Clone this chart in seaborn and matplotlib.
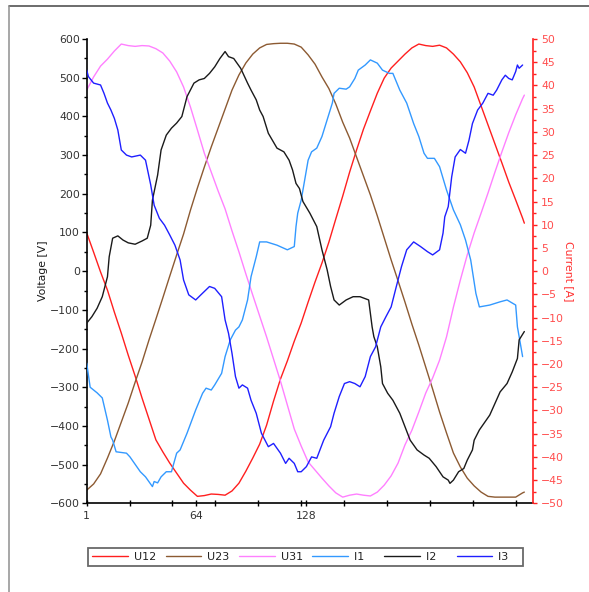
import matplotlib
matplotlib.use("Agg")
import matplotlib.pyplot as plt
from matplotlib.lines import Line2D
from matplotlib.ticker import MultipleLocator
import seaborn as sns

# ---- phase-to-phase voltages [V], one reading every 4 samples ----
sample_v = [1, 5, 9, 13, 17, 21, 25, 29, 33, 37, 41, 45, 49, 53, 57, 61, 65, 69, 73, 77,
            81, 85, 89, 93, 97, 101, 105, 109, 113, 117, 121, 125, 129, 133, 137, 141,
            145, 149, 153, 157, 161, 165, 169, 173, 177, 181, 185, 189, 193, 197, 201,
            205, 209, 213, 217, 221, 225, 229, 233, 237, 241, 245, 249, 253, 254]
u12 = [99, 49, -2, -49, -106, -160, -217, -271, -328, -382, -436, -467, -496, -522, -548,
       -566, -582, -580, -576, -577, -579, -568, -548, -517, -483, -447, -398, -336, -279,
       -232, -181, -134, -80, -28, 21, 75, 135, 194, 256, 313, 367, 414, 460, 499, 525,
       543, 561, 577, 587, 583, 581, 584, 577, 561, 541, 513, 476, 427, 378, 329, 280,
       230, 184, 137, 124]
u23 = [-566, -550, -524, -483, -439, -390, -341, -287, -235, -178, -124, -69, -13, 42, 96,
       158, 215, 269, 321, 370, 419, 468, 507, 538, 561, 577, 586, 588, 589, 589, 587, 579,
       559, 535, 502, 472, 432, 385, 344, 295, 246, 197, 143, 86, 29, -25, -80, -137,
       -191, -248, -305, -364, -418, -470, -506, -535, -555, -571, -582, -584, -584, -584,
       -584, -573, -571]
u31 = [468, 502, 530, 548, 569, 587, 583, 581, 583, 582, 575, 564, 543, 515, 476, 424, 365,
       305, 256, 207, 161, 104, 50, -7, -62, -116, -170, -227, -284, -346, -408, -452,
       -493, -514, -535, -555, -573, -584, -579, -576, -579, -581, -571, -553, -529, -496,
       -449, -411, -364, -315, -276, -230, -170, -93, -23, 42, 99, 150, 202, 256, 308, 358,
       404, 446, 455]

# ---- line currents [A] ----
i1_x = [1, 3, 7, 10, 13, 15, 16, 18, 24, 26, 32, 35, 39, 40, 42, 44, 47, 50, 53, 55,
        59, 64, 68, 70, 73, 75, 79, 81, 84, 87, 89, 91, 94, 96, 99, 101, 105, 111, 117,
        121, 122, 123, 125, 127, 129, 131, 134, 137, 140, 143, 144, 147, 151, 153, 156,
        158, 162, 165, 169, 172, 176, 178, 182, 186, 190, 193, 196, 198, 202, 205, 209,
        213, 217, 220, 223, 226, 228, 234, 240, 244, 249, 250, 251, 253]
i1 = [-19.8, -25.0, -26.2, -27.3, -32.1, -35.7, -36.4, -38.9, -39.2, -40.0, -43.2, -44.3,
      -46.4, -45.3, -45.6, -44.3, -43.2, -43.2, -39.2, -38.5, -34.9, -29.9, -26.3, -25.2,
      -25.6, -24.5, -22.0, -18.4, -14.8, -12.7, -12.0, -10.5, -6.2, -1.2, 3.1, 6.3, 6.3,
      5.6, 4.6, 5.3, 9.6, 12.5, 15.3, 19.6, 23.9, 25.7, 26.5, 29.0, 32.6, 36.2, 38.3,
      39.4, 39.2, 39.7, 41.5, 43.3, 44.4, 45.5, 44.8, 43.3, 42.6, 42.6, 39.0, 36.2, 31.8,
      29.0, 25.4, 24.3, 24.3, 22.5, 17.5, 13.2, 10.0, 6.7, 2.4, -4.8, -7.7, -7.3, -6.6,
      -6.2, -7.3, -12.0, -14.1, -18.4]

i2_x = [1, 4, 7, 10, 13, 14, 16, 19, 22, 25, 29, 33, 36, 38, 39, 42, 44, 47, 50, 53, 56,
        59, 63, 66, 69, 72, 75, 78, 81, 83, 86, 90, 94, 96, 99, 101, 103, 106, 111, 115,
        118, 120, 122, 124, 126, 130, 134, 137, 140, 142, 144, 147, 151, 155, 159, 164,
        165, 166, 167, 169, 171, 172, 175, 178, 182, 185, 188, 192, 196, 199, 203, 207,
        210, 211, 213, 216, 219, 221, 224, 225, 228, 234, 240, 244, 247, 250, 251, 254]
i2 = [-11.2, -9.8, -8.0, -5.5, -1.2, 3.1, 7.1, 7.6, 6.7, 6.1, 5.8, 6.5, 7.1, 9.9, 15.3,
      20.7, 26.1, 29.3, 30.8, 31.9, 33.3, 37.6, 40.5, 41.2, 41.5, 42.6, 44.0, 45.8, 47.3,
      46.2, 45.8, 43.7, 40.5, 39.0, 36.9, 34.7, 33.3, 29.7, 26.5, 25.7, 23.9, 21.8, 18.9,
      17.8, 15.0, 12.5, 9.6, 4.6, 0.3, -3.3, -6.2, -7.3, -6.2, -5.5, -5.5, -6.2, -9.1,
      -12.0, -14.1, -16.3, -20.6, -24.2, -26.3, -27.8, -30.6, -33.5, -36.4, -38.5, -39.6,
      -40.3, -42.1, -44.3, -45.0, -45.7, -45.0, -43.2, -42.5, -40.7, -38.5, -36.4, -34.2,
      -31.0, -26.0, -24.2, -21.7, -18.8, -14.8, -13.0]

i3_x = [1, 2, 5, 9, 11, 13, 15, 17, 19, 21, 24, 27, 32, 35, 38, 40, 43, 46, 49, 52, 55,
        57, 60, 64, 67, 72, 75, 79, 81, 83, 85, 87, 89, 91, 94, 96, 99, 102, 106, 109, 113,
        116, 118, 121, 123, 125, 128, 131, 134, 138, 142, 144, 147, 150, 153, 156, 159,
        162, 165, 168, 171, 174, 177, 180, 183, 186, 190, 194, 198, 201, 205, 207, 208,
        210, 212, 214, 217, 220, 222, 224, 227, 230, 233, 236, 238, 241, 243, 245, 247,
        249, 250, 251, 253]
i3 = [43.3, 41.9, 40.5, 40.1, 38.3, 36.2, 34.7, 32.9, 30.4, 26.1, 25.0, 24.6, 25.0, 23.9,
      18.6, 14.2, 11.4, 9.9, 7.8, 5.6, 2.4, -1.9, -5.1, -6.2, -5.1, -3.3, -3.7, -5.5,
      -10.5, -13.4, -17.7, -22.7, -25.2, -24.5, -25.2, -27.8, -30.6, -34.9, -37.8, -37.1,
      -39.2, -41.4, -40.3, -41.4, -43.2, -43.2, -42.1, -40.0, -40.3, -36.4, -33.5, -30.6,
      -27.0, -24.2, -23.8, -24.2, -24.9, -22.7, -18.4, -16.3, -12.0, -9.8, -7.7, -3.3,
      1.0, 4.6, 6.3, 5.3, 4.2, 3.5, 4.6, 8.2, 11.7, 13.9, 20.3, 24.6, 26.2, 25.4, 28.2,
      31.8, 34.7, 36.2, 38.3, 37.9, 39.0, 41.2, 42.2, 41.5, 41.2, 43.0, 44.4, 43.7, 44.4]

x_labels = [1, 64, 128]
x_grid = [1, 25.8, 50.6, 75.4, 100.2, 125, 149.8, 174.6, 199.4, 224.2, 249]

voltage_series = [("U12", u12, "#ff1f1f"), ("U23", u23, "#8c5a32"), ("U31", u31, "#ff80ff")]
current_series = [("I1", i1_x, i1, "#3399ff"), ("I2", i2_x, i2, "#1a1a1a"),
                  ("I3", i3_x, i3, "#1f1fff")]

FS = 7.8
sns.set_theme(style="ticks")
plt.rcParams["font.family"] = ["DejaVu Sans"]

fig = plt.figure(figsize=(5.89, 5.92), dpi=100)
ax = fig.add_axes([0.1472, 0.1498, 0.7577, 0.7843])
axr = ax.twinx()

for name, vals, col in voltage_series:
    sns.lineplot(x=sample_v, y=vals, ax=ax, color=col, linewidth=1.0, label=name,
                 legend=False)
for name, xs, vals, col in current_series:
    sns.lineplot(x=xs, y=vals, ax=axr, color=col, linewidth=1.0, label=name,
                 legend=False)

red = "#ff2020"
ax.set_xlim(1, 259)
ax.set_ylim(-600, 600)
axr.set_ylim(-50, 50)

# spines
for s in ("top", "right"):
    ax.spines[s].set_visible(False)
for s in ("top", "left", "bottom"):
    axr.spines[s].set_visible(False)
for s in ("left", "bottom"):
    ax.spines[s].set_color("black")
    ax.spines[s].set_linewidth(1.2)
axr.spines["right"].set_color(red)
axr.spines["right"].set_linewidth(1.2)

# left axis ticks
ax.yaxis.set_major_locator(MultipleLocator(100))
ax.yaxis.set_minor_locator(MultipleLocator(50))
ax.tick_params(axis="y", which="major", direction="out", length=3.6, width=1.0,
               color="black", labelcolor="#333333", labelsize=FS, pad=1.2)
ax.tick_params(axis="y", which="minor", direction="out", length=2.4, width=1.0,
               color="black")

# bottom axis ticks
ax.set_xticks(x_labels)
ax.set_xticklabels([str(v) for v in x_labels])
ax.set_xticks(x_grid, minor=True)
ax.tick_params(axis="x", which="both", direction="inout", length=3.8, width=1.0,
               color="black", labelcolor="#333333", labelsize=FS, pad=3.4)

# right axis ticks
axr.yaxis.set_major_locator(MultipleLocator(5))
axr.yaxis.set_minor_locator(MultipleLocator(2.5))
axr.tick_params(axis="y", which="major", direction="out", length=3.2, width=1.0,
                color=red, labelcolor="#ff4d4d", labelsize=FS, pad=2.6)
axr.tick_params(axis="y", which="minor", direction="out", length=2.0, width=1.0,
                color=red)

ax.set_ylabel("Voltage [V]", fontsize=FS, color="#1a1a1a", va="center")
ax.yaxis.set_label_coords(-0.098, 0.5)
axr.set_ylabel("Current [A]", fontsize=FS, color="#ff3030", rotation=270, va="center")
axr.yaxis.set_label_coords(1.081, 0.5)

# legend below the plot, equal-width columns
handles = ax.get_lines() + axr.get_lines()
labels = [h.get_label() if h.get_label().startswith("U") else h.get_label() + "   "
          for h in handles]
leg = fig.legend(handles, labels, ncol=6, loc="upper left",
                 bbox_to_anchor=(88.3 / 589, 1 - 548.3 / 592),
                 frameon=True, fancybox=False, fontsize=8,
                 handlelength=3.2, handletextpad=0.55, columnspacing=0.86,
                 borderpad=0.35, borderaxespad=0.0, labelcolor="#222222")
leg.get_frame().set_edgecolor("#444444")
leg.get_frame().set_linewidth(1.3)

# outer panel border (top and left edges)
fig.add_artist(Line2D([9 / 589, 1.0], [1 - 6 / 592, 1 - 6 / 592],
                      transform=fig.transFigure, color="#444444", linewidth=1.1))
fig.add_artist(Line2D([9 / 589, 9 / 589], [0.0, 1 - 6 / 592],
                      transform=fig.transFigure, color="#909090", linewidth=1.1))

fig.savefig("out.png", dpi=100, facecolor="white")
